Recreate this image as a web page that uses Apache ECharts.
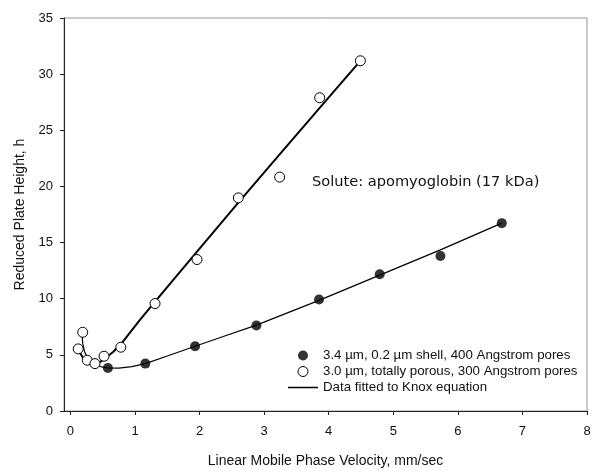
<!DOCTYPE html>
<html>
<head>
<meta charset="utf-8">
<script src="https://cdn.jsdelivr.net/npm/echarts@6/dist/echarts.min.js"></script>
<style>html,body{margin:0;padding:0;background:#fff}#c{width:600px;height:475px}</style>
</head>
<body>
<div id="c"></div>
<script>
// Data
var xTicks = [0, 1, 2, 3, 4, 5, 6, 7, 8];
var yTicks = [0, 5, 10, 15, 20, 25, 30, 35];

var shellX = [0.58, 1.16, 1.93, 2.88, 3.85, 4.79, 5.73, 6.68];
var shellY = [3.83, 4.22, 5.77, 7.61, 9.93, 12.18, 13.81, 16.73];

var porousX = [0.12, 0.19, 0.26, 0.38, 0.52, 0.78, 1.31, 1.96, 2.60, 3.24, 3.86, 4.49];
var porousY = [5.53, 7.01, 4.52, 4.22, 4.88, 5.68, 9.57, 13.49, 18.98, 20.83, 27.90, 31.19];

var porousFitX = [0.11, 0.17, 0.22, 0.27, 0.35, 0.42, 0.50, 0.66, 0.81, 1.07, 1.31, 1.96, 2.60, 3.24, 3.86, 4.49];
var porousFitY = [5.56, 4.96, 4.52, 4.28, 4.14, 4.25, 4.52, 5.26, 6.15, 8.08, 9.75, 14.2, 18.55, 22.85, 27.0, 31.19];

var shellFitX = [0.18, 0.19, 0.22, 0.27, 0.32, 0.40, 0.50, 0.58, 0.75, 0.95, 1.16, 1.50, 1.93, 2.40, 2.88, 3.85, 4.79, 5.73, 6.68];
var shellFitY = [6.95, 6.00, 5.26, 4.67, 4.37, 4.08, 3.90, 3.83, 3.82, 3.95, 4.22, 4.90, 5.77, 6.70, 7.65, 9.85, 12.10, 14.35, 16.73];

var legendNames = ['3.4 \u00b5m, 0.2 \u00b5m shell, 400 Angstrom pores',
                   '3.0 \u00b5m, totally porous, 300 Angstrom pores',
                   'Data fitted to Knox equation'];
var annotation = 'Solute: apomyoglobin (17 kDa)';
var xName = 'Linear Mobile Phase Velocity, mm/sec';
var yName = 'Reduced Plate Height, h';

function pairs(xs, ys) { return xs.map(function (x, i) { return [x, ys[i]]; }); }

var chart = echarts.init(document.getElementById('c'), null, {renderer: 'canvas'});
var font = '"Liberation Sans", Arial, sans-serif';
chart.setOption({
  animation: false,
  backgroundColor: '#fff',
  grid: {left: 64, right: 13, top: 18, bottom: 64, show: true, borderColor: '#999', borderWidth: 1, outerBoundsMode: 'none', containLabel: false},
  xAxis: {
    type: 'value', min: -0.1, max: 8,
    name: xName, nameLocation: 'middle', nameGap: 43,
    nameTextStyle: {fontFamily: font, fontSize: 14, color: '#111'},
    axisLine: {show: true, onZero: false, lineStyle: {color: '#222', width: 1}},
    axisTick: {show: true, inside: false, length: 4, customValues: xTicks, lineStyle: {color: '#222'}},
    axisLabel: {show: true, margin: 14, customValues: xTicks, fontFamily: font, fontSize: 13, color: '#111'},
    splitLine: {show: false}
  },
  yAxis: {
    type: 'value', min: 0, max: 35, interval: 5,
    name: yName, nameLocation: 'middle', nameGap: 30, nameRotate: 90,
    nameTextStyle: {fontFamily: font, fontSize: 14, color: '#111'},
    axisLine: {show: true, onZero: false, lineStyle: {color: '#222', width: 1}},
    axisTick: {show: true, inside: false, length: 4, lineStyle: {color: '#222'}},
    axisLabel: {show: true, margin: 11, fontFamily: font, fontSize: 13, color: '#111'},
    splitLine: {show: false}
  },
  legend: {
    show: true, orient: 'vertical', left: 288, top: 349, padding: 0,
    itemWidth: 30, itemHeight: 10, itemGap: 3,
    data: [
      {name: legendNames[0], icon: 'circle', itemStyle: {color: '#000', borderWidth: 0}},
      {name: legendNames[1], icon: 'circle', itemStyle: {color: '#fff', borderColor: '#000', borderWidth: 1}},
      {name: legendNames[2], icon: 'path://M0,0 L30,0 L30,1.5 L0,1.5 Z', itemStyle: {color: '#000', borderWidth: 0}}
    ],
    textStyle: {fontFamily: font, fontSize: 13.3, color: '#111'},
    backgroundColor: 'transparent'
  },
  graphic: [{
    type: 'text', left: 312, top: 175, silent: true,
    style: {text: annotation, fontFamily: '"DejaVu Sans", Verdana, sans-serif', fontSize: 14.6, fill: '#111'}
  }],
  series: [
    {
      name: legendNames[2], type: 'line', data: pairs(porousFitX, porousFitY),
      symbol: 'none', smooth: false, lineStyle: {color: '#000', width: 2}, itemStyle: {color: '#000'}, z: 2
    },
    {
      name: legendNames[2], type: 'line', data: pairs(shellFitX, shellFitY),
      symbol: 'none', smooth: false, lineStyle: {color: '#000', width: 1.2}, itemStyle: {color: '#000'}, z: 2
    },
    {
      name: legendNames[0], type: 'scatter', data: pairs(shellX, shellY),
      symbol: 'circle', symbolSize: 10, itemStyle: {color: '#000', borderColor: '#000', borderWidth: 0}, z: 3
    },
    {
      name: legendNames[1], type: 'scatter', data: pairs(porousX, porousY),
      symbol: 'circle', symbolSize: 10, itemStyle: {color: '#fff', borderColor: '#000', borderWidth: 1, opacity: 1}, z: 3
    }
  ]
});
</script>
</body>
</html>
